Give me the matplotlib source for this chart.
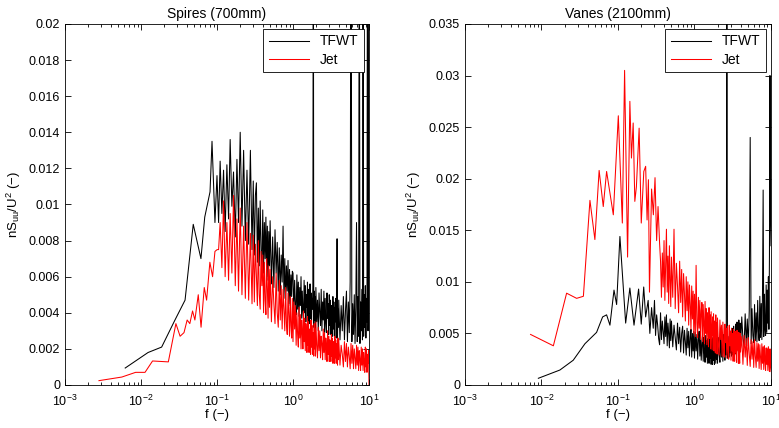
import numpy as np
import matplotlib
matplotlib.use('Agg')
import matplotlib.pyplot as plt
from matplotlib.ticker import FormatStrFormatter

plt.rcParams['font.family'] = ['Liberation Sans', 'DejaVu Sans']
plt.rcParams['font.size'] = 9
plt.rcParams['mathtext.fontset'] = 'custom'
plt.rcParams['mathtext.rm'] = 'Liberation Sans'
plt.rcParams['mathtext.it'] = 'Liberation Sans:italic'
plt.rcParams['axes.linewidth'] = 0.6

# frequency bins of the dense (noisy) part of the spectra, 0.1 - 10
f_band = [
    # 0.1 - 0.3
    0.105, 0.11, 0.116, 0.122, 0.128, 0.135, 0.142, 0.149, 0.157, 0.165,
    0.174, 0.183, 0.192, 0.202, 0.213, 0.224, 0.236, 0.248, 0.261, 0.275, 0.289,
    # 0.3 - 1
    0.30, 0.31, 0.32, 0.33, 0.34, 0.35, 0.36, 0.37, 0.38, 0.39,
    0.40, 0.41, 0.42, 0.43, 0.44, 0.45, 0.46, 0.47, 0.48, 0.49,
    0.50, 0.52, 0.54, 0.56, 0.58, 0.60, 0.62, 0.64, 0.66, 0.68,
    0.70, 0.72, 0.74, 0.76, 0.78, 0.80, 0.82, 0.84, 0.86, 0.88,
    0.90, 0.92, 0.94, 0.96, 0.98,
    # 1 - 10
    1.000, 1.025, 1.050, 1.075, 1.100, 1.125, 1.150, 1.175, 1.200, 1.225,
    1.250, 1.275, 1.300, 1.325, 1.350, 1.375, 1.400, 1.425, 1.450, 1.475,
    1.500, 1.525, 1.550, 1.575, 1.600, 1.625, 1.650, 1.675, 1.700, 1.725,
    1.750, 1.775, 1.800, 1.825, 1.850, 1.875, 1.900, 1.925, 1.950, 1.975,
    2.00, 2.05, 2.10, 2.15, 2.20, 2.25, 2.30, 2.35, 2.40, 2.45,
    2.50, 2.55, 2.60, 2.65, 2.70, 2.75, 2.80, 2.85, 2.90, 2.95,
    3.00, 3.05, 3.10, 3.15, 3.20, 3.25, 3.30, 3.35, 3.40, 3.45,
    3.50, 3.55, 3.60, 3.65, 3.70, 3.75, 3.80, 3.85, 3.90, 3.95,
    4.00, 4.15, 4.30, 4.45, 4.60, 4.75, 4.90, 5.05, 5.20, 5.35,
    5.50, 5.65, 5.80, 5.95, 6.10, 6.25, 6.40, 6.55, 6.70, 6.85,
    7.00, 7.15, 7.30, 7.45, 7.60, 7.75, 7.90, 8.05, 8.20, 8.35,
    8.50, 8.65, 8.80, 8.95, 9.10, 9.25, 9.40, 9.55, 9.70, 9.85, 10.0]

# --- Spires (700mm) ---
spires_tfwt_f = [0.0062, 0.0124, 0.0187, 0.028, 0.038, 0.0487, 0.0615, 0.069,
                 0.081, 0.086, 0.094, 0.100]
spires_tfwt_S = [0.00094, 0.0018, 0.0021, 0.0036, 0.0047, 0.0089, 0.0070, 0.0093,
                 0.0107, 0.0135, 0.0090, 0.0116]
spires_tfwt_band = [
    0.0090, 0.0124, 0.0095, 0.0119, 0.0085, 0.0122, 0.0092, 0.0136, 0.0099, 0.0118,
    0.0082, 0.0125, 0.0090, 0.0140, 0.0088, 0.0130, 0.0080, 0.0119, 0.0078, 0.0130, 0.0075,
    0.0113, 0.0072, 0.0105, 0.0112, 0.0068, 0.0098, 0.0066, 0.0102, 0.0075, 0.0064,
    0.0097, 0.0062, 0.0090, 0.0070, 0.0093, 0.0060, 0.0088, 0.0058, 0.0085, 0.0066,
    0.0091, 0.0056, 0.0082, 0.0054, 0.0086, 0.0062, 0.0079, 0.0052, 0.0076, 0.0050,
    0.0072, 0.0057, 0.0088, 0.0048, 0.0070, 0.0047, 0.0066, 0.0052, 0.0069, 0.0045,
    0.0064, 0.0044, 0.0061, 0.0049, 0.0063,
    0.0062, 0.0040, 0.0058, 0.0045, 0.0039, 0.0061, 0.0042, 0.0057, 0.0038, 0.0054,
    0.0044, 0.0060, 0.0037, 0.0052, 0.0041, 0.0036, 0.0058, 0.0040, 0.0055, 0.0035,
    0.0050, 0.0043, 0.0057, 0.0034, 0.0053, 0.0039, 0.0034, 0.0056, 0.0037, 0.0051,
    0.0033, 0.0048, 0.0042, 0.0055, 0.0300, 0.0032, 0.0052, 0.0036, 0.0049, 0.0031,
    0.0054, 0.0035, 0.0047, 0.0030, 0.0051, 0.0040, 0.0033, 0.0053, 0.0030, 0.0046,
    0.0036, 0.0052, 0.0029, 0.0048, 0.0034, 0.0029, 0.0051, 0.0037, 0.0045, 0.0028,
    0.0050, 0.0033, 0.0047, 0.0028, 0.0044, 0.0038, 0.0027, 0.0049, 0.0031, 0.0046,
    0.0027, 0.0043, 0.0035, 0.0048, 0.0026, 0.0045, 0.0081, 0.0026, 0.0042, 0.0032,
    0.0047, 0.0025, 0.0044, 0.0030, 0.0049, 0.0025, 0.0041, 0.0052, 0.0024, 0.0046,
    0.0029, 0.0057, 0.0300, 0.0024, 0.0045, 0.0028, 0.0050, 0.0023, 0.0043, 0.0090,
    0.0024, 0.0049, 0.0027, 0.0300, 0.0023, 0.0046, 0.0030, 0.0053, 0.0025, 0.0300,
    0.0027, 0.0050, 0.0032, 0.0055, 0.0026, 0.0048, 0.0035, 0.0300, 0.0030, 0.0052, 0.0300]

spires_jet_f = [0.0028, 0.0056, 0.0085, 0.0113, 0.0142, 0.0229, 0.0288, 0.0327,
                0.0368, 0.0405, 0.0439, 0.0477, 0.0512, 0.0567, 0.0617, 0.068,
                0.073, 0.0806, 0.0875, 0.094, 0.1005]
spires_jet_S = [0.00024, 0.00044, 0.0007, 0.0007, 0.00133, 0.00128, 0.0034, 0.0027,
                0.0029, 0.0036, 0.0034, 0.0041, 0.0036, 0.0050, 0.0032, 0.0054,
                0.0047, 0.0068, 0.0060, 0.0074, 0.0075]
spires_jet_band = [
    0.0075, 0.0090, 0.0065, 0.0102, 0.0060, 0.0090, 0.0058, 0.0095, 0.0062, 0.0105,
    0.0055, 0.0092, 0.0052, 0.0098, 0.0050, 0.0088, 0.0048, 0.0090, 0.0047, 0.0084, 0.0045,
    0.0083, 0.0046, 0.0078, 0.0060, 0.0044, 0.0080, 0.0050, 0.0042, 0.0074, 0.0055,
    0.0072, 0.0040, 0.0068, 0.0047, 0.0039, 0.0070, 0.0052, 0.0037, 0.0066, 0.0043,
    0.0064, 0.0035, 0.0060, 0.0045, 0.0034, 0.0062, 0.0040, 0.0032, 0.0058, 0.0036,
    0.0055, 0.0031, 0.0053, 0.0042, 0.0030, 0.0054, 0.0034, 0.0028, 0.0051, 0.0038,
    0.0027, 0.0049, 0.0033, 0.0026, 0.0048,
    0.0024, 0.0046, 0.0031, 0.0044, 0.0022, 0.0040, 0.0028, 0.0021, 0.0043, 0.0026,
    0.0039, 0.0020, 0.0036, 0.0030, 0.0020, 0.0041, 0.0024, 0.0037, 0.0019, 0.0034,
    0.0027, 0.0018, 0.0038, 0.0022, 0.0035, 0.0018, 0.0031, 0.0025, 0.0017, 0.0036,
    0.0021, 0.0033, 0.0017, 0.0029, 0.0024, 0.0016, 0.0034, 0.0020, 0.0031, 0.0016,
    0.0035, 0.0022, 0.0015, 0.0032, 0.0019, 0.0030, 0.0015, 0.0027, 0.0023, 0.0014,
    0.0031, 0.0018, 0.0029, 0.0014, 0.0026, 0.0021, 0.0013, 0.0030, 0.0017, 0.0027,
    0.0013, 0.0025, 0.0020, 0.0013, 0.0028, 0.0016, 0.0026, 0.0012, 0.0024, 0.0019,
    0.0012, 0.0027, 0.0015, 0.0025, 0.0012, 0.0023, 0.0018, 0.0011, 0.0026, 0.0014,
    0.0025, 0.0011, 0.0022, 0.0017, 0.0010, 0.0024, 0.0013, 0.0023, 0.0010, 0.0021,
    0.0016, 0.0009, 0.0023, 0.0012, 0.0022, 0.0009, 0.0020, 0.0015, 0.0009, 0.0022,
    0.0011, 0.0021, 0.0008, 0.0019, 0.0014, 0.0008, 0.0021, 0.0011, 0.0020, 0.0008,
    0.0018, 0.0013, 0.0007, 0.0021, 0.0010, 0.0020, 0.0007, 0.0017, 0.0012, 0.0019, 0.0000]

# --- Vanes (2100mm) ---
vanes_tfwt_f = [0.0091, 0.0174, 0.026, 0.037, 0.0525, 0.063, 0.071, 0.0785, 0.0887,
                0.096, 0.106, 0.126, 0.143, 0.162, 0.186, 0.2015, 0.217, 0.23]
vanes_tfwt_S = [0.00065, 0.00145, 0.0024, 0.0040, 0.0051, 0.0066, 0.0068, 0.0058, 0.0092,
                0.0078, 0.0144, 0.0060, 0.0094, 0.0058, 0.0093, 0.0059, 0.0095, 0.0066]
vanes_tfwt_band = [
    0.0082, 0.0050, 0.0075, 0.0055,
    0.0082, 0.0048, 0.0068, 0.0058, 0.0045, 0.0039, 0.0070, 0.0044, 0.0062, 0.0052,
    0.0040, 0.0066, 0.0047, 0.0068, 0.0038, 0.0060, 0.0050, 0.0036, 0.0064, 0.0043,
    0.0062, 0.0037, 0.0058, 0.0046, 0.0034, 0.0060, 0.0040, 0.0056, 0.0032, 0.0050,
    0.0057, 0.0031, 0.0053, 0.0042, 0.0029, 0.0055, 0.0036, 0.0052, 0.0028, 0.0046,
    0.0054, 0.0027, 0.0050, 0.0033, 0.0052,
    0.0026, 0.0051, 0.0033, 0.0049, 0.0025, 0.0044, 0.0052, 0.0028, 0.0047, 0.0024,
    0.0040, 0.0050, 0.0023, 0.0046, 0.0031, 0.0022, 0.0048, 0.0027, 0.0043, 0.0021,
    0.0045, 0.0035, 0.0021, 0.0047, 0.0026, 0.0042, 0.0020, 0.0044, 0.0030, 0.0020,
    0.0046, 0.0024, 0.0041, 0.0020, 0.0045, 0.0033, 0.0021, 0.0047, 0.0025, 0.0043,
    0.0021, 0.0046, 0.0030, 0.0022, 0.0048, 0.0027, 0.0044, 0.0023, 0.0049, 0.0034,
    0.0024, 0.0050, 0.0029, 0.0400, 0.0026, 0.0047, 0.0036, 0.0027, 0.0053, 0.0031,
    0.0049, 0.0028, 0.0055, 0.0038, 0.0029, 0.0057, 0.0033, 0.0052, 0.0030, 0.0059,
    0.0040, 0.0032, 0.0061, 0.0035, 0.0056, 0.0033, 0.0063, 0.0043, 0.0034, 0.0060,
    0.0036, 0.0066, 0.0045, 0.0037, 0.0069, 0.0039, 0.0064, 0.0038, 0.0072, 0.0240,
    0.0040, 0.0074, 0.0048, 0.0041, 0.0078, 0.0043, 0.0070, 0.0042, 0.0082, 0.0052,
    0.0043, 0.0086, 0.0046, 0.0079, 0.0044, 0.0090, 0.0189, 0.0047, 0.0088, 0.0056,
    0.0048, 0.0097, 0.0051, 0.0092, 0.0060, 0.0105, 0.0054, 0.0125, 0.0300, 0.0160, 0.0135]

vanes_jet_f = [0.0072, 0.0143, 0.0213, 0.0288, 0.0353, 0.043, 0.0499, 0.0567, 0.0642,
               0.071, 0.0869, 0.101, 0.114, 0.122, 0.1335, 0.143, 0.150, 0.158, 0.166,
               0.174, 0.189, 0.2015, 0.2175, 0.23, 0.24, 0.25, 0.258, 0.275, 0.29,
               0.305, 0.32, 0.334]
vanes_jet_S = [0.0049, 0.0038, 0.0089, 0.0084, 0.0086, 0.0179, 0.0141, 0.0208, 0.0173,
               0.0207, 0.0165, 0.0261, 0.0157, 0.0305, 0.0124, 0.0275, 0.0220, 0.0254, 0.0178,
               0.0192, 0.0249, 0.0157, 0.0207, 0.0212, 0.0160, 0.0199, 0.0090, 0.0190, 0.0165,
               0.0201, 0.0140, 0.0173]
vanes_jet_band = [
    0.0137, 0.0120, 0.0085, 0.0128, 0.0095, 0.0140, 0.0082, 0.0118, 0.0151, 0.0090,
    0.0125, 0.0079, 0.0135, 0.0102, 0.0076,
    0.0124, 0.0085, 0.0151, 0.0074, 0.0118, 0.0096, 0.0070, 0.0120, 0.0080, 0.0112,
    0.0066, 0.0108, 0.0088, 0.0062, 0.0105, 0.0072, 0.0100, 0.0058, 0.0097, 0.0078,
    0.0054, 0.0096, 0.0064, 0.0091, 0.0050,
    0.0088, 0.0047, 0.0116, 0.0060, 0.0046, 0.0085, 0.0055, 0.0082, 0.0044, 0.0072,
    0.0080, 0.0042, 0.0078, 0.0058, 0.0040, 0.0081, 0.0050, 0.0074, 0.0039, 0.0070,
    0.0056, 0.0037, 0.0075, 0.0045, 0.0068, 0.0035, 0.0071, 0.0052, 0.0034, 0.0066,
    0.0048, 0.0069, 0.0033, 0.0062, 0.0043, 0.0031, 0.0068, 0.0046, 0.0060, 0.0030,
    0.0065, 0.0040, 0.0029, 0.0063, 0.0044, 0.0058, 0.0028, 0.0061, 0.0037, 0.0027,
    0.0059, 0.0041, 0.0055, 0.0026, 0.0057, 0.0035, 0.0025, 0.0058, 0.0038, 0.0052,
    0.0024, 0.0055, 0.0033, 0.0050, 0.0023, 0.0054, 0.0036, 0.0023, 0.0052, 0.0031,
    0.0049, 0.0022, 0.0053, 0.0034, 0.0047, 0.0021, 0.0051, 0.0029, 0.0021, 0.0050,
    0.0032, 0.0047, 0.0020, 0.0048, 0.0027, 0.0045, 0.0019, 0.0046, 0.0030, 0.0018,
    0.0044, 0.0025, 0.0042, 0.0017, 0.0044, 0.0028, 0.0017, 0.0041, 0.0023, 0.0040,
    0.0016, 0.0039, 0.0026, 0.0015, 0.0040, 0.0021, 0.0037, 0.0015, 0.0038, 0.0024,
    0.0014, 0.0036, 0.0020, 0.0035, 0.0014, 0.0037, 0.0022, 0.0013, 0.0035, 0.0018, 0.0013]


def spectrum(f_low, s_low, band):
    # low-frequency points followed by the tail of the shared band grid
    f = list(f_low) + f_band[-len(band):]
    s = list(s_low) + list(band)
    return f, s


def draw_panel(ax, title, ymax, ystep, tfwt, jet):
    ax.semilogx(*tfwt, color='k', lw=0.75, label='TFWT')
    ax.semilogx(*jet, color='r', lw=0.75, label='Jet')
    ax.set_xlim(1e-3, 10)
    ax.set_ylim(0, ymax)
    ax.set_yticks(np.arange(0, ymax + ystep / 2, ystep))
    ax.yaxis.set_major_formatter(FormatStrFormatter('%g'))
    ax.tick_params(which='both', direction='in', top=True, right=True, width=0.6,
                   labelsize=9)
    ax.tick_params(which='major', length=4)
    ax.tick_params(which='minor', length=2)
    ax.tick_params(axis='x', which='major', pad=6)
    ax.set_title(title, fontsize=10, pad=4.5)
    ax.set_xlabel('f (\u2212)', fontsize=9.5, labelpad=0)
    ax.set_ylabel('nS$_{\\mathrm{uu}}$/U$^{\\mathrm{2}}$ (\u2212)', fontsize=9.5)
    leg = ax.legend(loc='upper right', fancybox=False, edgecolor='k', framealpha=1,
                    fontsize=10, handlelength=2.9, borderaxespad=0.35,
                    labelspacing=0.3)
    leg.get_frame().set_linewidth(0.6)


def main():
    fig = plt.figure(figsize=(7.79, 4.28), dpi=100)
    ax1 = fig.add_axes([0.0834, 0.1005, 0.3903, 0.8435])
    ax2 = fig.add_axes([0.5969, 0.1005, 0.3928, 0.8435])

    draw_panel(ax1, 'Spires (700mm)', 0.02, 0.002,
               spectrum(spires_tfwt_f, spires_tfwt_S, spires_tfwt_band),
               spectrum(spires_jet_f, spires_jet_S, spires_jet_band))
    draw_panel(ax2, 'Vanes (2100mm)', 0.035, 0.005,
               spectrum(vanes_tfwt_f, vanes_tfwt_S, vanes_tfwt_band),
               spectrum(vanes_jet_f, vanes_jet_S, vanes_jet_band))

    fig.savefig('out.png', dpi=100)


if __name__ == '__main__':
    main()
